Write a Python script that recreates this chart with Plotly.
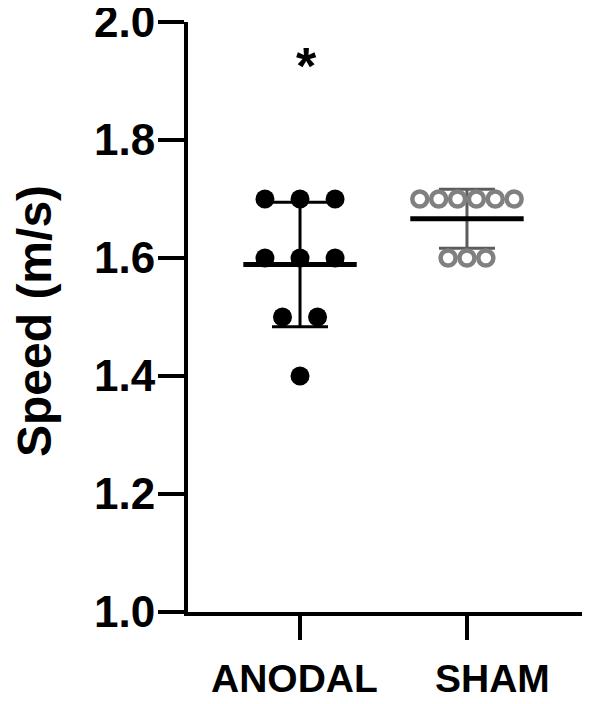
import numpy as np
import plotly.graph_objects as go

# group data
groups = ["ANODAL", "SHAM"]
anodal = [1.7, 1.7, 1.7, 1.6, 1.6, 1.6, 1.5, 1.5, 1.4]
sham = [1.7, 1.7, 1.7, 1.7, 1.7, 1.7, 1.6, 1.6, 1.6]
y_ticks = [1.0, 1.2, 1.4, 1.6, 1.8, 2.0]
y_title = "Speed (m/s)"
sig_label = "*"
sig_y = 1.925

FONT = "Arial, Liberation Sans, sans-serif"


def swarm(values, center, step):
    """Spread repeated values sideways around the category center."""
    xs = []
    vals = np.asarray(values)
    for i, v in enumerate(vals):
        same = np.flatnonzero(vals == v)
        k = list(same).index(i)
        xs.append(center + (k - (len(same) - 1) / 2) * step)
    return xs


fig = go.Figure()

styles = [
    dict(data=anodal, step=0.21, err_color="black",
         marker=dict(symbol="circle", size=19, color="black")),
    dict(data=sham, step=0.113, err_color="#5c5c5c",
         marker=dict(symbol="circle", size=15, color="white",
                     line=dict(color="#808080", width=4.5))),
]

for pos, (name, st) in enumerate(zip(groups, styles), start=1):
    vals = np.array(st["data"])
    mean, sd = vals.mean(), vals.std(ddof=1)
    # mean line (line-ew is 1.4 x size long) + SD whiskers
    fig.add_trace(go.Scatter(
        x=[pos], y=[mean], mode="markers", showlegend=False, hoverinfo="skip",
        marker=dict(symbol="line-ew", size=81, line=dict(width=5, color="black")),
        error_y=dict(type="data", array=[sd], visible=True,
                     thickness=3, width=28, color=st["err_color"]),
    ))
    fig.add_trace(go.Scatter(
        x=swarm(vals, pos, st["step"]), y=vals, mode="markers",
        name=name, showlegend=False, marker=st["marker"],
    ))

# category labels (SHAM sits a little right of its tick in the original)
label_shift = [-6, 26]
for pos, (name, dx) in enumerate(zip(groups, label_shift), start=1):
    fig.add_annotation(
        x=pos, y=0, xref="x", yref="paper", text=f"<b>{name}</b>",
        showarrow=False, xanchor="center", yanchor="middle",
        xshift=dx, yshift=-66, font=dict(family=FONT, size=39, color="black"),
    )

fig.add_annotation(
    x=1, y=sig_y, text=f"<b>{sig_label}</b>", showarrow=False,
    xshift=6, font=dict(family=FONT, size=52, color="black"),
)

# y title as a rotated annotation so it can sit closer to the page edge
fig.add_annotation(
    x=0, y=0.5, xref="paper", yref="paper", text=f"<b>{y_title}</b>",
    textangle=-90, showarrow=False, xanchor="center", yanchor="middle",
    xshift=-154, yshift=-4, font=dict(family=FONT, size=48, color="black"),
)

# the page body adds an 8px offset, so the margins are shifted by that much
fig.update_layout(
    width=590, height=704,
    margin=dict(l=180, r=12, t=14, b=100),
    paper_bgcolor="white", plot_bgcolor="white",
    xaxis=dict(
        range=[0.329, 2.713], tickvals=[1, 2], showticklabels=False,
        showline=True, linecolor="black", linewidth=4,
        ticks="outside", ticklen=24, tickwidth=4, tickcolor="black",
        showgrid=False, zeroline=False, automargin=False,
    ),
    yaxis=dict(
        range=[1.0, 2.0], tickvals=y_ticks, tickformat=".1f",
        showline=True, linecolor="black", linewidth=4,
        ticks="outside", ticklen=26, tickwidth=4, tickcolor="black",
        tickfont=dict(family=FONT, size=44, color="black", weight="bold"),
        ticklabeloverflow="allow", ticklabelstandoff=-6,
        showgrid=False, zeroline=False, automargin=False,
    ),
)

fig.write_html("out.html")
